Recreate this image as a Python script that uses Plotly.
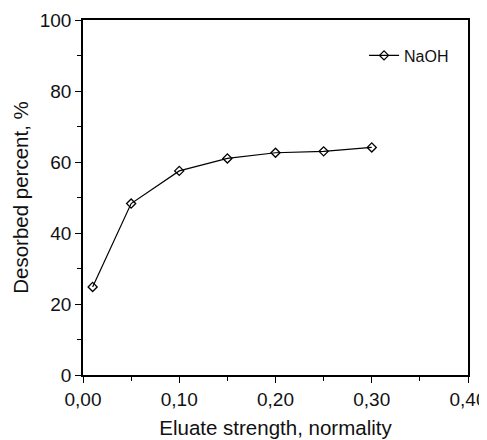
import plotly.graph_objects as go

x_vals = [0.01, 0.05, 0.10, 0.15, 0.20, 0.25, 0.30]
y_vals = [24.8, 48.3, 57.5, 61.0, 62.6, 63.0, 64.1]
series_name = "NaOH"

fig = go.Figure()
fig.add_trace(go.Scatter(
    x=x_vals, y=y_vals, name=series_name, mode="lines+markers",
    line=dict(color="black", width=1.2),
    marker=dict(symbol="diamond-open", size=7, color="black", line=dict(width=1.3)),
))

font = "Liberation Sans, Arial, sans-serif"
fig.update_layout(
    width=479, height=432,
    margin=dict(l=75, r=19, t=12, b=65, autoexpand=False),
    paper_bgcolor="white", plot_bgcolor="white",
    separators=",.",
    font=dict(family=font, size=19, color="#111111"),
    showlegend=True,
    legend=dict(x=0.73, y=0.90, xanchor="left", yanchor="middle",
                bgcolor="rgba(0,0,0,0)", font=dict(size=16)),
    xaxis=dict(range=[0, 0.4], dtick=0.1, tickformat=".2f",
               showline=True, linecolor="black", linewidth=1.5, mirror=True,
               ticks="outside", ticklen=6, tickwidth=1.2, tickcolor="black",
               minor=dict(dtick=0.05, ticks="outside", ticklen=4, tickcolor="black", tickwidth=1.2),
               showgrid=False, zeroline=False, automargin=False,
               title=dict(text="Eluate strength, normality", font=dict(size=20.5), standoff=12)),
    yaxis=dict(range=[0, 100], dtick=20,
               showline=True, linecolor="black", linewidth=1.5, mirror=True,
               ticks="outside", ticklen=6, tickwidth=1.2, tickcolor="black",
               minor=dict(dtick=10, ticks="outside", ticklen=4, tickcolor="black", tickwidth=1.2),
               showgrid=False, zeroline=False, automargin=False,
               title=dict(text="Desorbed percent, %", font=dict(size=20.5), standoff=6)),
)

fig.write_html("out.html")
